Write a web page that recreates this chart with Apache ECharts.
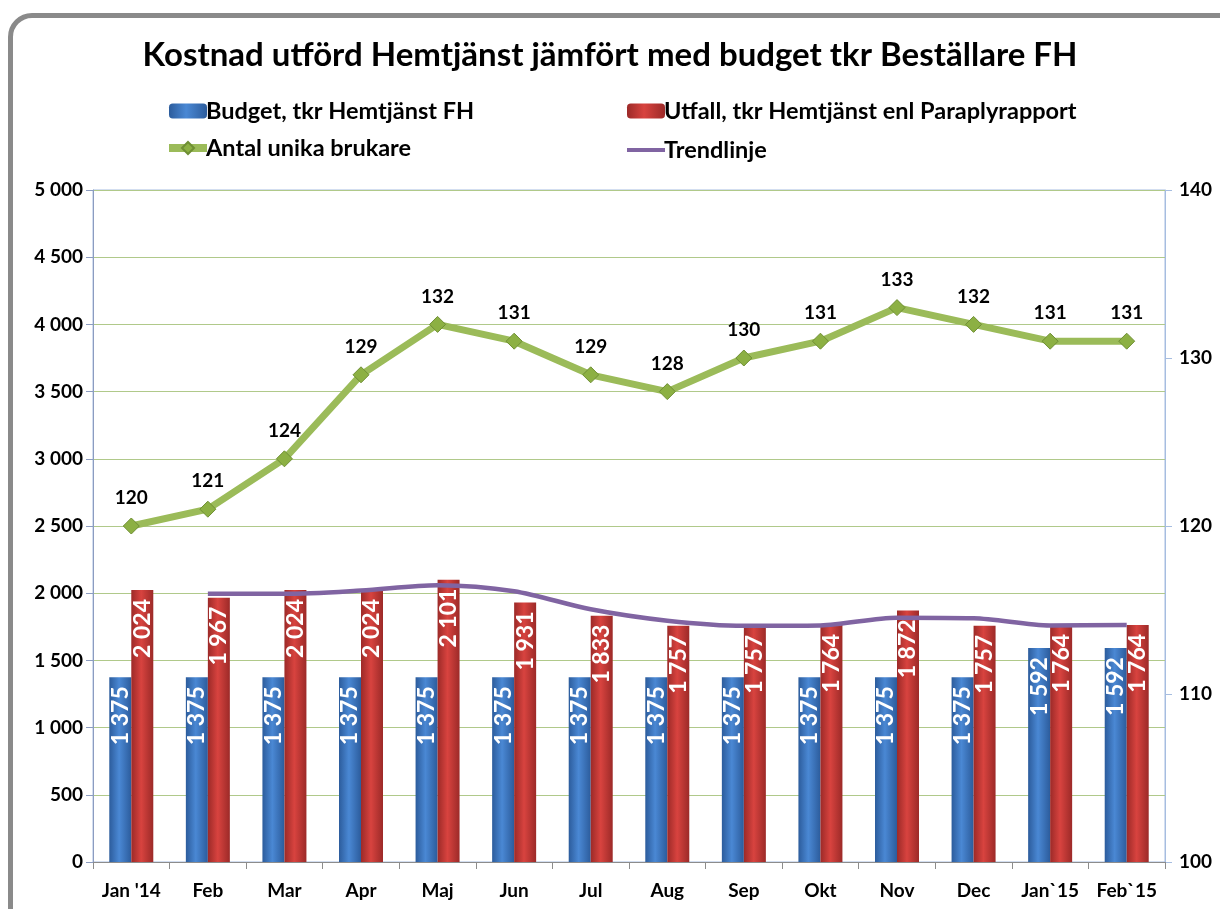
<!DOCTYPE html>
<html>
<head>
<meta charset="utf-8">
<script src="https://cdn.jsdelivr.net/npm/echarts@6/dist/echarts.min.js"></script>
<style>
  html, body { margin: 0; padding: 0; background: #fff; overflow: hidden; }
  #frame {
    position: absolute; left: 8px; top: 13px; width: 1300px; height: 1000px;
    border: 5px solid #8a8a8a; border-radius: 24px; box-sizing: border-box;
  }
  #chart { position: absolute; left: 0; top: 0; width: 1220px; height: 909px; }
</style>
</head>
<body>
<div id="frame"></div>
<div id="chart"></div>
<script>
'use strict';

const months = ["Jan '14", 'Feb', 'Mar', 'Apr', 'Maj', 'Jun', 'Jul', 'Aug', 'Sep', 'Okt', 'Nov', 'Dec', 'Jan`15', 'Feb`15'];
const budget = [1375, 1375, 1375, 1375, 1375, 1375, 1375, 1375, 1375, 1375, 1375, 1375, 1592, 1592];
const utfall = [2024, 1967, 2024, 2024, 2101, 1931, 1833, 1757, 1757, 1764, 1872, 1757, 1764, 1764];
const brukare = [120, 121, 124, 129, 132, 131, 129, 128, 130, 131, 133, 132, 131, 131];
// starts at Feb
const trend = [null, 1995, 1995, 2020, 2060, 2015, 1880, 1795, 1757, 1760, 1818, 1814, 1760, 1764];

const FONT = 'Lato';

const fmt = v => {
  const s = String(Math.round(v));
  return s.length > 3 ? s.slice(0, s.length - 3) + ' ' + s.slice(-3) : s;
};

const barGrad = (edge, mid) => new echarts.graphic.LinearGradient(0, 0, 1, 0, [
  { offset: 0, color: edge },
  { offset: 0.45, color: mid },
  { offset: 1, color: edge }
]);

const barLabel = {
  show: true,
  position: 'insideTop',
  distance: 9,
  rotate: 90,
  align: 'right',
  verticalAlign: 'middle',
  color: '#fff',
  fontFamily: FONT,
  fontWeight: 'bold',
  fontSize: 23,
  formatter: p => fmt(p.value)
};

const legendText = { fontFamily: FONT, fontWeight: 'bold', fontSize: 23.5, color: '#000', padding: [0, 0, 0, -6] };
const axisText = { color: '#000', fontFamily: FONT, fontWeight: 'bold', fontSize: 19 };

const chart = echarts.init(document.getElementById('chart'), null, { renderer: 'canvas' });

chart.setOption({
  animation: false,
  textStyle: { fontFamily: FONT },
  title: {
    text: 'Kostnad utförd Hemtjänst jämfört med budget tkr Beställare FH',
    left: 'center',
    top: 34,
    textStyle: { fontFamily: FONT, fontWeight: 'bold', fontSize: 33, color: '#000' }
  },
  legend: [
    {
      data: ['Budget, tkr Hemtjänst FH',
        { name: 'Antal unika brukare', lineStyle: { width: 8 } }],
      orient: 'vertical',
      left: 160,
      top: 94,
      itemGap: 13,
      itemWidth: 38,
      itemHeight: 15,
      textStyle: legendText
    },
    {
      data: ['Utfall, tkr Hemtjänst enl Paraplyrapport'],
      left: 622,
      top: 94,
      itemWidth: 38,
      itemHeight: 15,
      textStyle: legendText
    },
    {
      data: ['Trendlinje'],
      left: 622,
      top: 133,
      itemWidth: 38,
      itemHeight: 4,
      icon: 'rect',
      textStyle: legendText
    }
  ],
  grid: { left: 93, right: 55, top: 190, bottom: 47, show: true, borderColor: '#a6bde0', borderWidth: 1 },
  xAxis: {
    type: 'category',
    data: months,
    axisLine: { lineStyle: { color: '#8c8c8c', width: 1 } },
    axisTick: { show: true, length: 7, lineStyle: { color: '#8c8c8c' } },
    axisLabel: Object.assign({ margin: 19, interval: 0 }, axisText)
  },
  yAxis: [
    {
      type: 'value',
      min: 0, max: 5000, interval: 500,
      axisLine: { show: true, lineStyle: { color: '#8c9cc0' } },
      axisTick: { show: true, length: 7, lineStyle: { color: '#8c9cc0' } },
      axisLabel: Object.assign({ margin: 10, formatter: fmt }, axisText),
      splitLine: { lineStyle: { color: '#b0c98a', width: 1 } }
    },
    {
      type: 'value',
      min: 100, max: 140, interval: 10,
      position: 'right',
      axisLine: { show: true, lineStyle: { color: '#a6bde0' } },
      axisTick: { show: true, length: 7, lineStyle: { color: '#a6bde0' } },
      axisLabel: Object.assign({ margin: 14 }, axisText),
      splitLine: { show: false }
    }
  ],
  series: [
    {
      name: 'Budget, tkr Hemtjänst FH',
      type: 'bar',
      data: budget,
      barWidth: 22,
      barGap: '0%',
      itemStyle: { color: barGrad('#2c5c9c', '#4a88d4') },
      label: barLabel
    },
    {
      name: 'Utfall, tkr Hemtjänst enl Paraplyrapport',
      type: 'bar',
      data: utfall,
      barWidth: 22,
      itemStyle: { color: barGrad('#9c2a28', '#d8433f') },
      label: barLabel
    },
    {
      name: 'Antal unika brukare',
      type: 'line',
      yAxisIndex: 1,
      data: brukare,
      symbol: 'diamond',
      symbolSize: 16,
      z: 5,
      lineStyle: { color: '#9bbb59', width: 7 },
      itemStyle: { color: '#8cb043', borderColor: '#6f8f34', borderWidth: 1 },
      label: {
        show: true,
        position: 'top',
        distance: 10,
        color: '#000',
        fontFamily: FONT,
        fontWeight: 'bold',
        fontSize: 19
      }
    },
    {
      name: 'Trendlinje',
      type: 'line',
      data: trend,
      smooth: 0.3,
      symbol: 'none',
      z: 4,
      lineStyle: { color: '#8064a2', width: 4.5 },
      itemStyle: { color: '#8064a2' }
    }
  ]
});
</script>
</body>
</html>
